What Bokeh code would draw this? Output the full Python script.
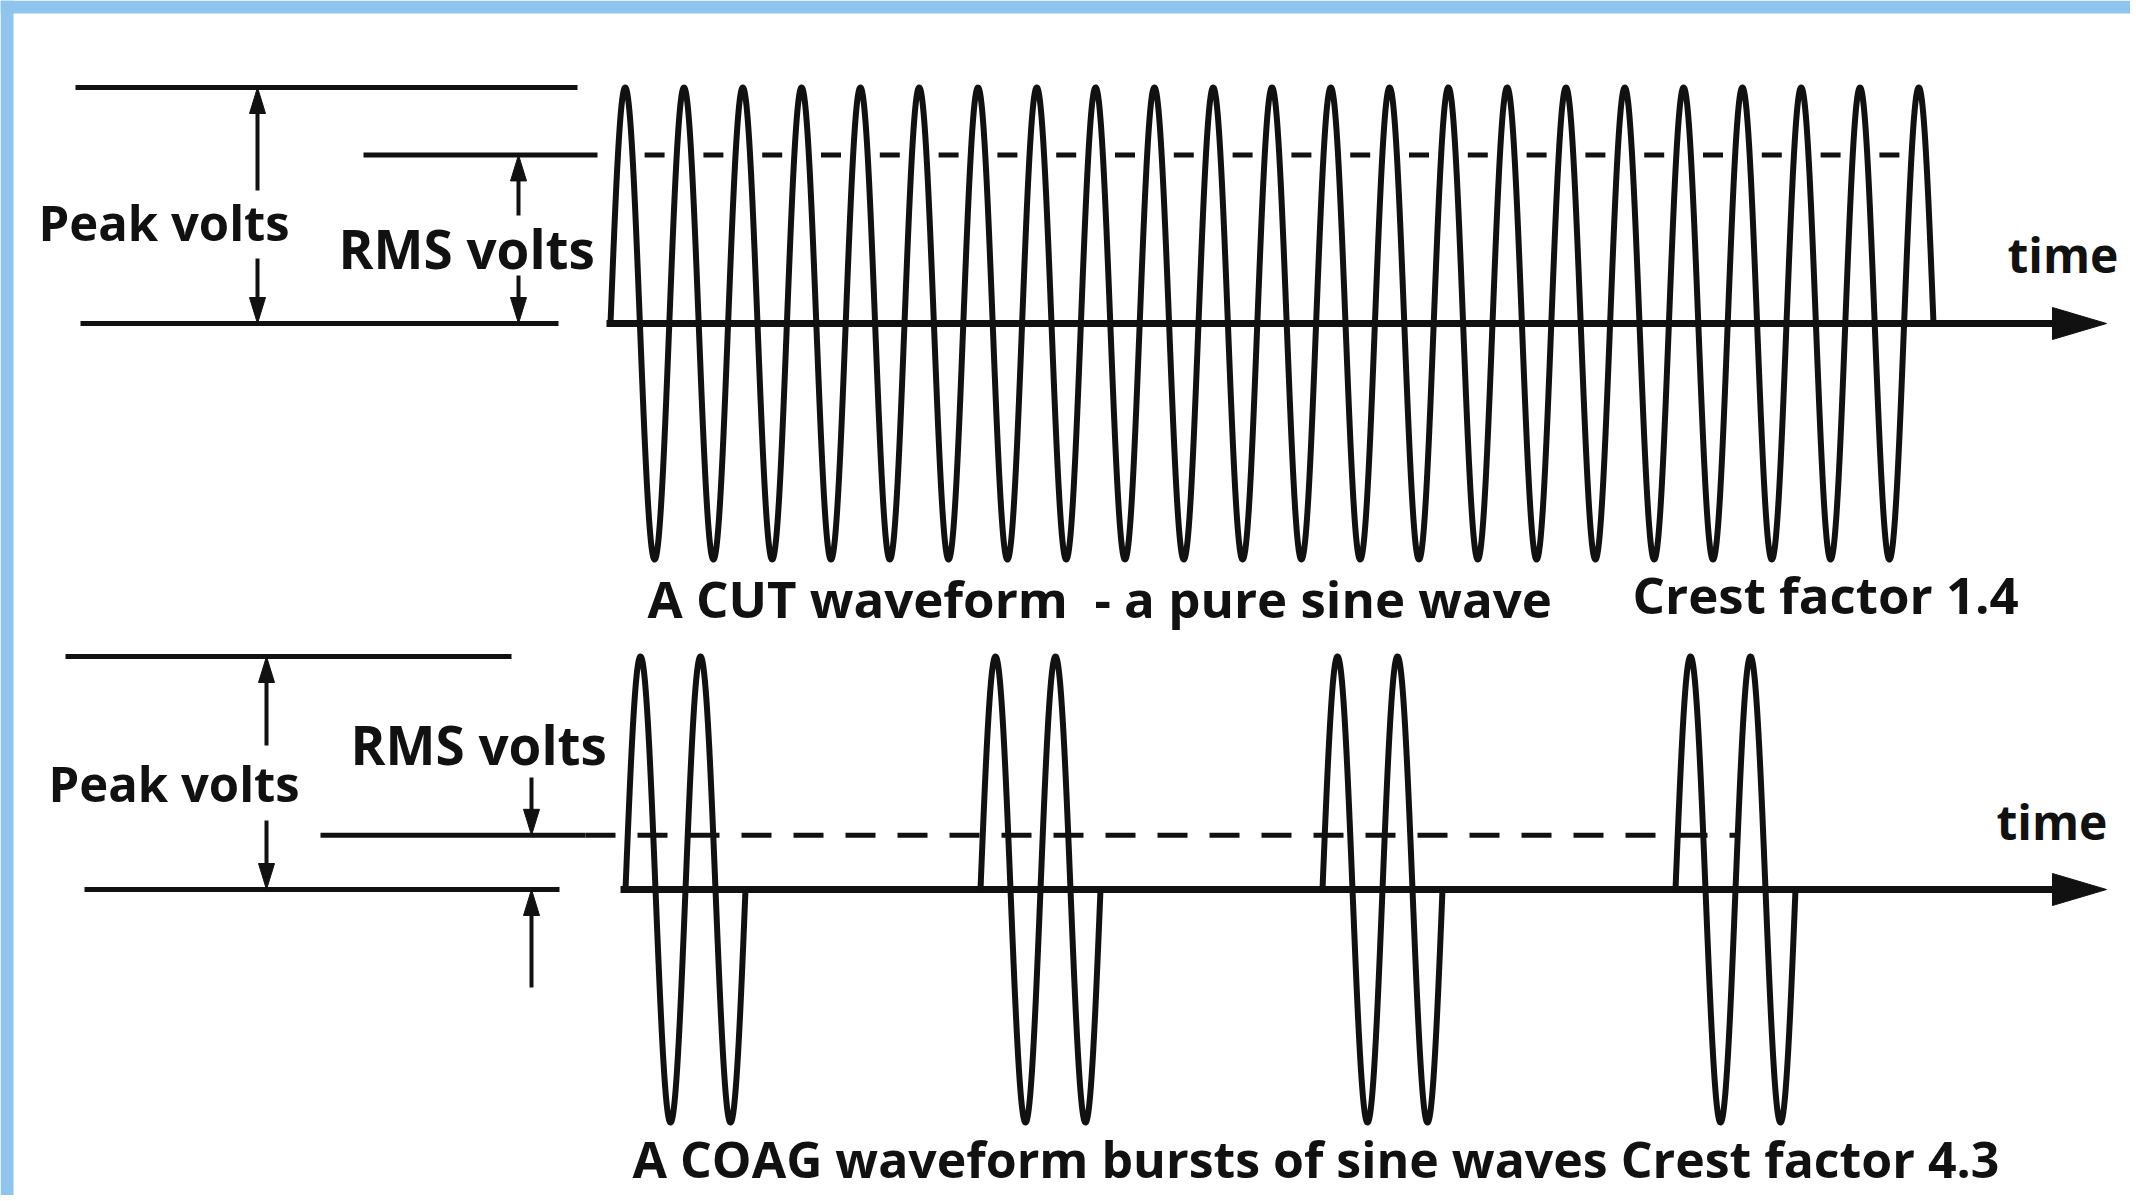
import numpy as np
from bokeh.plotting import figure
from bokeh.models import Range1d
from bokeh.core.properties import value
from bokeh.embed import file_html
from bokeh.resources import INLINE

# ---------------- data ----------------
PEAK_VOLTS = 1.0
CUT_CREST_FACTOR = 1.4
COAG_CREST_FACTOR = 4.3
CUT_START = 610.0          # time units
CUT_PERIOD = 58.8
CUT_CYCLES = 22.5
COAG_BURST_STARTS = [625, 980, 1322, 1675]
COAG_PERIOD = 60.0
COAG_CYCLES_PER_BURST = 2

LABEL_PEAK = "Peak volts"
LABEL_RMS = "RMS volts"
LABEL_TIME = "time"
CUT_CAPTION = "A CUT waveform\u00a0 - a pure sine wave"
CUT_CREST_LABEL = "Crest factor 1.4"
COAG_CAPTION = "A COAG waveform bursts of sine waves Crest factor 4.3"

# ---------------- style / layout ----------------
INK = "#111111"
BLUE = "#8fc4ef"
FONT = value("Open Sans")
W, H = 2130, 1195

T_BASE, T_PPV = 323.0, 236.0     # CUT panel: baseline pixel, pixels per volt
B_BASE, B_PPV = 889.0, 233.0     # COAG panel

p = figure(width=W, height=H, x_range=Range1d(0, W), y_range=Range1d(H, 0),
           output_backend="svg", toolbar_location=None,
           x_axis_location=None, y_axis_location=None, min_border=0,
           outline_line_color=None, background_fill_color="white",
           border_fill_color="white")
p.grid.visible = False
p.extra_y_ranges = {
    "cut": Range1d((T_BASE - H) / T_PPV, T_BASE / T_PPV),
    "coag": Range1d((B_BASE - H) / B_PPV, B_BASE / B_PPV),
}

# light blue frame of the scan
p.quad(left=0, right=13, bottom=H, top=0, color=BLUE, line_color=None)
p.quad(left=0, right=W, bottom=13, top=0, color=BLUE, line_color=None)


def hline(x0, x1, v, rn, **kw):
    p.line([x0, x1], [v, v], y_range_name=rn, line_width=5, color=INK, **kw)


def v_arrow(x, y_from, y_to, rn, ppv):
    d = 1 if y_to > y_from else -1
    hl = 26 / ppv
    p.line([x, x], [y_from, y_to - d * hl * 0.5], y_range_name=rn,
           line_width=4, color=INK)
    p.patch([x - 8, x, x + 8], [y_to - d * hl, y_to, y_to - d * hl],
            y_range_name=rn, color=INK, line_width=1)


def time_axis(x0, rn, ppv):
    p.line([x0, 2056], [0, 0], y_range_name=rn, line_width=7, color=INK)
    hh = 16 / ppv
    p.patch([2052, 2106, 2052], [hh, 0, -hh], y_range_name=rn, color=INK,
            line_width=1)


def label(x, y, txt, size, rn):
    p.text(x=[x], y=[y], text=[txt], y_range_name=rn, text_font=FONT,
           text_font_style="bold", text_font_size=value(size),
           text_align="left", text_baseline="middle", text_color=INK)


# ---------------- CUT panel ----------------
tv = lambda px: (T_BASE - px) / T_PPV
cut_rms = PEAK_VOLTS / CUT_CREST_FACTOR

hline(75, 577, PEAK_VOLTS, "cut")
hline(80, 558, 0, "cut")
hline(363, 597, cut_rms, "cut")
v_arrow(257, tv(190), PEAK_VOLTS, "cut", T_PPV)
v_arrow(257, tv(258), 0, "cut", T_PPV)
v_arrow(518, tv(215), cut_rms, "cut", T_PPV)
v_arrow(518, tv(275), 0, "cut", T_PPV)

k = np.arange(int(CUT_CYCLES))
cx = CUT_START + (k + 0.75) * CUT_PERIOD
p.segment(x0=cx - 10, x1=cx + 10, y0=cut_rms, y1=cut_rms, y_range_name="cut",
          line_width=5, color=INK)

time_axis(606, "cut", T_PPV)
t = np.linspace(0, CUT_CYCLES, 4000)
p.line(CUT_START + t * CUT_PERIOD, PEAK_VOLTS * np.sin(2 * np.pi * t),
       y_range_name="cut", line_width=6, color=INK, line_join="round")

label(38, tv(221), LABEL_PEAK, "49px", "cut")
label(338, tv(248), LABEL_RMS, "53px", "cut")
label(2007, tv(254), LABEL_TIME, "48px", "cut")
label(647, tv(597), CUT_CAPTION, "51px", "cut")
label(1632, tv(593), CUT_CREST_LABEL, "51px", "cut")

# ---------------- COAG panel ----------------
bv = lambda px: (B_BASE - px) / B_PPV
coag_rms = PEAK_VOLTS / COAG_CREST_FACTOR

hline(65, 511, PEAK_VOLTS, "coag")
hline(84, 559, 0, "coag")
hline(320, 585, coag_rms, "coag")
hline(585, 1735, coag_rms, "coag", line_dash="30 22")
v_arrow(266, bv(745), PEAK_VOLTS, "coag", B_PPV)
v_arrow(266, bv(820), 0, "coag", B_PPV)
v_arrow(531, bv(777), coag_rms, "coag", B_PPV)
v_arrow(531, bv(987), 0, "coag", B_PPV)

time_axis(620, "coag", B_PPV)
tb = np.linspace(0, COAG_CYCLES_PER_BURST, 600)
xs = [s + tb * COAG_PERIOD for s in COAG_BURST_STARTS]
ys = [PEAK_VOLTS * np.sin(2 * np.pi * tb) for _ in COAG_BURST_STARTS]
p.multi_line(xs, ys, y_range_name="coag", line_width=6, color=INK,
             line_join="round")

label(48, bv(782), LABEL_PEAK, "49px", "coag")
label(350, bv(744), LABEL_RMS, "53px", "coag")
label(1996, bv(821), LABEL_TIME, "48px", "coag")
label(632, bv(1158), COAG_CAPTION, "50px", "coag")

open("out.html", "w").write(file_html(p, INLINE))
